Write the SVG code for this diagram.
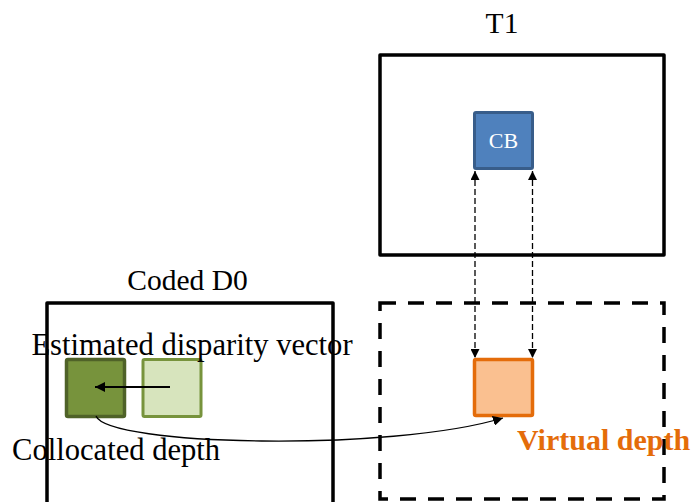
<svg xmlns="http://www.w3.org/2000/svg" width="695" height="502" viewBox="0 0 695 502">
<defs>
<style>
.t{font-family:"Liberation Serif","Times New Roman",serif;font-size:29.5px;fill:#000}
.t2{font-family:"Liberation Serif","Times New Roman",serif;font-size:30.6px;fill:#000}
.frame{fill:none;stroke:#000;stroke-width:3.5;stroke-linejoin:round}
.dash{fill:none;stroke:#000;stroke-width:1.3;stroke-dasharray:6 3}
</style>
<marker id="ah" viewBox="0 0 10 10" refX="10" refY="5" markerWidth="9" markerHeight="9" markerUnits="userSpaceOnUse" orient="auto-start-reverse">
<path d="M0,0 L10,5 L0,10 z" fill="#000"/>
</marker>
<marker id="ah2" viewBox="0 0 10 10" refX="10" refY="5" markerWidth="10" markerHeight="10" markerUnits="userSpaceOnUse" orient="auto">
<path d="M0,0 L10,5 L0,10 z" fill="#000"/>
</marker>
</defs>
<rect width="695" height="502" fill="#fff"/>
<g id="t1-frame">
<rect class="frame" x="380" y="55" width="284" height="200"/>
<text class="t" x="502" y="33" text-anchor="middle">T1</text>
</g>
<g id="d0-frame">
<rect class="frame" x="47" y="303" width="286" height="210"/>
<text class="t" x="187.5" y="290" text-anchor="middle">Coded D0</text>
</g>
<g id="virtual-frame">
<rect x="380" y="303" width="284" height="196" fill="none" stroke="#000" stroke-width="3.5" stroke-dasharray="16 12"/>
</g>
<g id="cb">
<rect x="474.5" y="112.5" width="58" height="56" rx="1.5" fill="#4F81BD" stroke="#385D8A" stroke-width="3"/>
<text x="503.5" y="148" text-anchor="middle" style="font-family:'Liberation Serif','Times New Roman',serif;font-size:22px;fill:#fff">CB</text>
</g>
<g id="virtual-depth">
<rect x="474.5" y="359.5" width="58" height="56" rx="1.5" fill="#FAC090" stroke="#E46C0A" stroke-width="3.5"/>
<text x="517" y="450" style="font-family:'Liberation Serif','Times New Roman',serif;font-size:30px;font-weight:bold;fill:#E46C0A">Virtual depth</text>
</g>
<g id="collocated-depth">
<rect x="66.5" y="359.5" width="58" height="57" rx="1.5" fill="#77933C" stroke="#4F6228" stroke-width="3.5"/>
<text class="t2" x="12" y="460">Collocated depth</text>
</g>
<g id="estimated-block">
<rect x="143" y="359.5" width="58" height="57" rx="1.5" fill="#D7E4BD" stroke="#77933C" stroke-width="3"/>
<text class="t2" x="192" y="355" text-anchor="middle">Estimated disparity vector</text>
</g>
<g id="connectors">
<line x1="170" y1="387" x2="95" y2="387" stroke="#000" stroke-width="2" marker-end="url(#ah2)"/>
<line class="dash" x1="475" y1="171" x2="475" y2="358" stroke="#555" marker-start="url(#ah)" marker-end="url(#ah)"/>
<line class="dash" x1="532.5" y1="171" x2="532.5" y2="358" marker-start="url(#ah)" marker-end="url(#ah)"/>
<path d="M96,416 C108,446 390,452 503,418" fill="none" stroke="#000" stroke-width="1.3" marker-end="url(#ah2)"/>
</g>
</svg>
